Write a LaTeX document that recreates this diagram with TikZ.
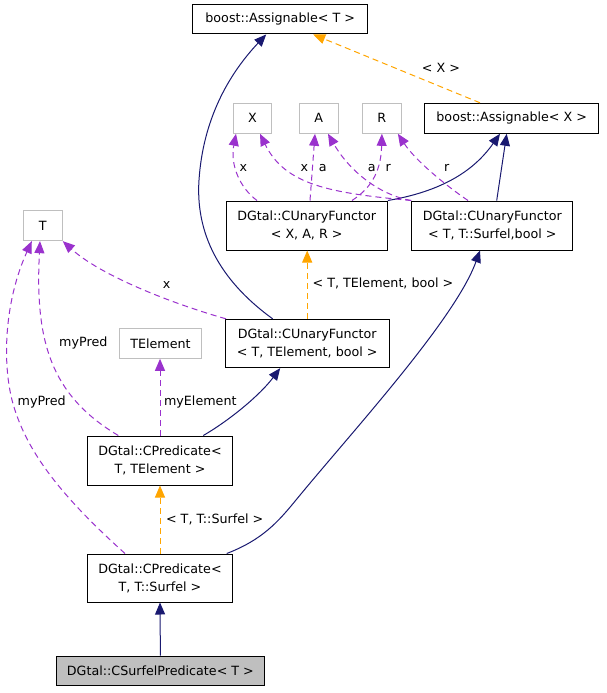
\documentclass[tikz,border=0pt]{standalone}
\usepackage{fontspec}
\setmainfont{DejaVu Sans}
\usetikzlibrary{arrows.meta}
\definecolor{navy}{HTML}{191970}
\definecolor{dxorange}{HTML}{FFA500}
\definecolor{dxpurple}{HTML}{9A32CD}
\definecolor{dxgray}{HTML}{BFBFBF}
\begin{document}
\begin{tikzpicture}[x=1pt, y=-1pt, line width=1pt,
  every node/.style={font=\fontsize{12.7}{18}\selectfont, inner sep=0pt},
  cls/.style={draw=black, fill=white, align=center},
  ext/.style={draw=dxgray, fill=white},
  inherit/.style={navy, -{Triangle[length=12pt,width=10pt]}},
  member/.style={dxpurple, dash pattern=on 6pt off 4pt, -{Triangle[length=12pt,width=10pt]}},
  templ/.style={dxorange, dash pattern=on 6pt off 4pt, -{Triangle[length=12pt,width=10pt]}},
  elbl/.style={text height=9pt, text depth=2.5pt}]
\useasboundingbox (0,0) rectangle (606,693);
\node[cls, minimum width=175, minimum height=29.3] (asgT) at (280.2,19.3){boost::Assignable< T >};
\node[cls, minimum width=174, minimum height=30] (asgX) at (511.7,118.3){boost::Assignable< X >};
\node[ext, minimum width=38.4, minimum height=30] (tX) at (252.5,118.3){X};
\node[ext, minimum width=39, minimum height=30] (tA) at (318.8,118.3){A};
\node[ext, minimum width=38.4, minimum height=30] (tR) at (381.9,118.3){R};
\node[cls, minimum width=161.3, minimum height=49] (fnXAR) at (306.7,225.5){DGtal::CUnaryFunctor\\< X, A, R >};
\node[cls, minimum width=161.2, minimum height=49] (fnTS) at (492.3,225.5){DGtal::CUnaryFunctor\\< T, T::Surfel,bool >};
\node[ext, minimum width=39, minimum height=29.7] (tT) at (42.8,225.8){T};
\node[cls, minimum width=164.3, minimum height=48.3] (fnTE) at (307.2,343.5){DGtal::CUnaryFunctor\\< T, TElement, bool >};
\node[ext, minimum width=82.4, minimum height=30] (tElem) at (160.5,343.3){TElement};
\node[cls, minimum width=144.6, minimum height=49] (predTE) at (160,460.5){DGtal::CPredicate<\\T, TElement >};
\node[cls, minimum width=144.6, minimum height=48] (predTS) at (160,578){DGtal::CPredicate<\\T, T::Surfel >};
\node[cls, fill=dxgray, minimum width=208.8, minimum height=29] (surfPred) at (160.4,670.5){DGtal::CSurfelPredicate< T >};
\draw[inherit]([xshift=-34.5]fnTE.north) .. controls (226,285) and (195,240) .. (199,180) .. controls (203,120) and (228,75) .. ([xshift=-14]asgT.south);
\draw[templ]([xshift=-31.7]asgX.north) -- ([xshift=33]asgT.south);
\node[elbl] (lblX) at (441,69){< X >};
\draw[inherit](fnXAR.north east) .. controls (450,190) and (478,165) .. ([xshift=-11.7]asgX.south);
\draw[inherit]([xshift=4.4]fnTS.north) -- ([xshift=-5]asgX.south);
\draw[member]([xshift=-49.7]fnXAR.north) .. controls (240,188) and (230,165) .. ([xshift=-16.5]tX.south);
\draw[member]([xshift=3.3]fnXAR.north) -- ([xshift=-3.8]tA.south);
\draw[member]([xshift=45.3]fnXAR.north) .. controls (368,190) and (381,175) .. (tR.south);
\draw[member](fnTS.north west) .. controls (330,193) and (285,185) .. ([xshift=7.5]tX.south);
\draw[member](fnTS.north west) .. controls (380,195) and (350,172) .. ([xshift=9.2]tA.south);
\draw[member]([xshift=-24.3]fnTS.north) .. controls (445,185) and (415,160) .. ([xshift=16]tR.south);
\node[elbl] (lblx1) at (243.3,168){x};
\node[elbl] (lblx2) at (304.3,168){x};
\node[elbl] (lbla1) at (322.7,168){a};
\node[elbl] (lbla2) at (371.7,168){a};
\node[elbl] (lblr1) at (388.3,168){r};
\node[elbl] (lblr2) at (446.7,168){r};
\draw[templ](fnTE.north) -- (fnTE.north |- fnXAR.south);
\node[elbl] (lblTE) at (383,284.3){< T, TElement, bool >};
\draw[member]([xshift=1.5]fnTE.north west) .. controls (170,303) and (100,275) .. (tT.south east);
\node[elbl] (lblx3) at (166.7,285){x};
\draw[member](predTE.north) -- (predTE.north |- tElem.south);
\node[elbl] (lblElem) at (200.3,402.3){myElement};
\draw[inherit]([xshift=43.3]predTE.north) .. controls (230,420) and (260,395) .. ([xshift=-27]fnTE.south);
\draw[member]([xshift=-41.7]predTE.north) .. controls (50,395) and (35,340) .. ([xshift=-2.8]tT.south);
\node[elbl] (lblPred1) at (83.3,343.3){myPred};
\draw[member]([xshift=-35]predTS.north) .. controls (60,495) and (25,450) .. (12,400) .. controls (2,360) and (5,300) .. ([xshift=-11]tT.south);
\node[elbl] (lblPred2) at (41.7,402.3){myPred};
\draw[templ](predTS.north) -- (predTE.south);
\node[elbl] (lblTS) at (214.7,520){< T, T::Surfel >};
\draw[inherit]([xshift=66.7]predTS.north) .. controls (262,540) and (278,522) .. (296,500) .. controls (350,434) and (455,320) .. ([xshift=-12.3]fnTS.south);
\draw[inherit](surfPred.north) -- (predTS.south);
\end{tikzpicture}
\end{document}
